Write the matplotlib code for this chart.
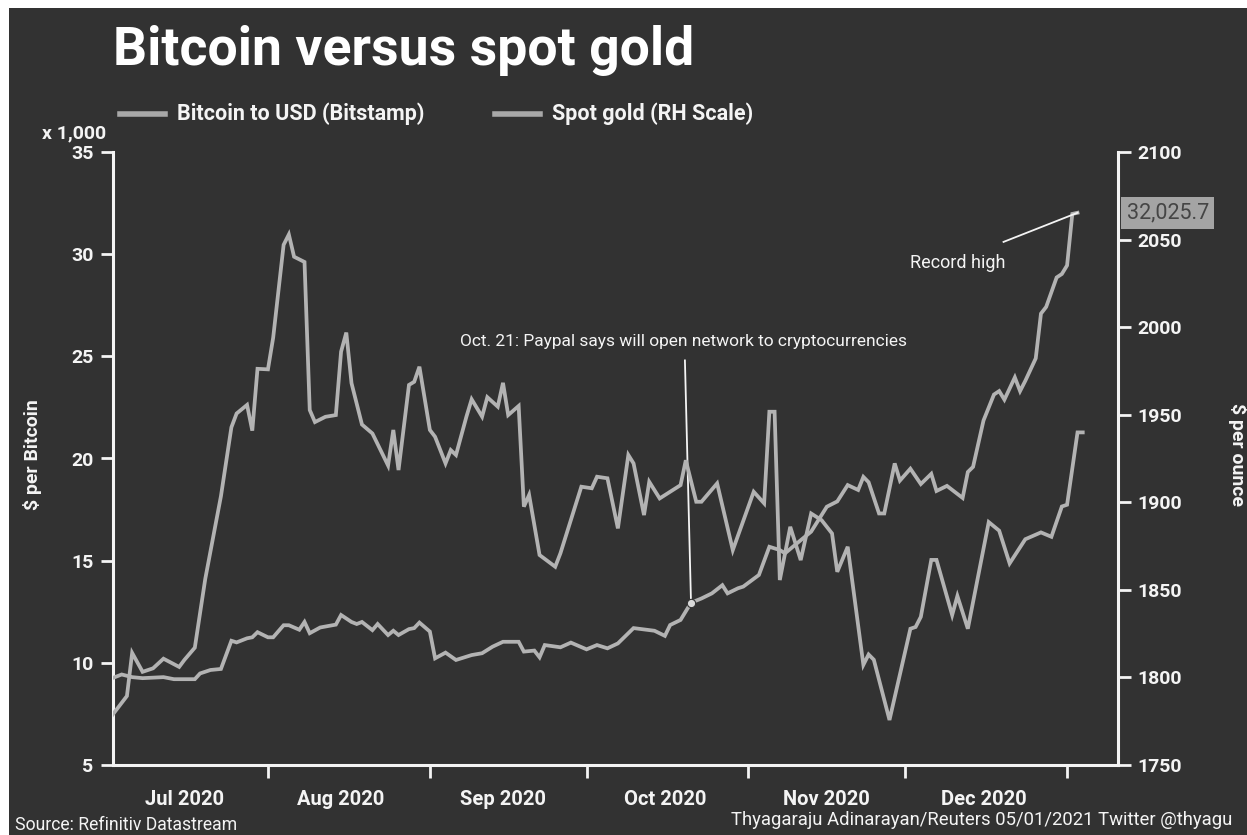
import matplotlib.pyplot as plt
import matplotlib.transforms as mtransforms
from matplotlib.lines import Line2D
from matplotlib.patches import Rectangle
import pandas as pd

# Bitcoin to USD (Bitstamp), thousands of dollars
btc_dates = [
    "2020-07-02", "2020-07-04", "2020-07-06", "2020-07-08", "2020-07-12", "2020-07-14",
    "2020-07-18", "2020-07-19", "2020-07-21", "2020-07-23", "2020-07-25", "2020-07-26",
    "2020-07-28", "2020-07-29", "2020-07-30", "2020-08-01", "2020-08-02", "2020-08-04",
    "2020-08-05", "2020-08-07", "2020-08-08", "2020-08-09", "2020-08-11", "2020-08-14",
    "2020-08-15", "2020-08-17", "2020-08-18", "2020-08-19", "2020-08-21", "2020-08-22",
    "2020-08-24", "2020-08-25", "2020-08-26", "2020-08-28", "2020-08-29", "2020-08-30",
    "2020-09-01", "2020-09-02", "2020-09-04", "2020-09-06", "2020-09-09", "2020-09-11",
    "2020-09-13", "2020-09-15", "2020-09-18", "2020-09-19", "2020-09-21", "2020-09-22",
    "2020-09-23", "2020-09-26", "2020-09-28", "2020-10-01", "2020-10-03", "2020-10-05",
    "2020-10-07", "2020-10-10", "2020-10-14", "2020-10-16", "2020-10-17", "2020-10-19",
    "2020-10-21", "2020-10-23", "2020-10-25", "2020-10-27", "2020-10-28", "2020-10-30",
    "2020-10-31", "2020-11-03", "2020-11-05", "2020-11-07", "2020-11-08", "2020-11-11",
    "2020-11-13", "2020-11-16", "2020-11-18", "2020-11-20", "2020-11-22", "2020-11-23",
    "2020-11-24", "2020-11-26", "2020-11-27", "2020-11-29", "2020-11-30", "2020-12-02",
    "2020-12-04", "2020-12-06", "2020-12-07", "2020-12-09", "2020-12-12", "2020-12-13",
    "2020-12-14", "2020-12-16", "2020-12-18", "2020-12-19", "2020-12-20", "2020-12-22",
    "2020-12-23", "2020-12-24", "2020-12-26", "2020-12-27", "2020-12-28", "2020-12-30",
    "2020-12-31", "2021-01-01", "2021-01-02", "2021-01-03",
]
btc_values = [
    9.23, 9.43, 9.30, 9.25, 9.30, 9.20,
    9.20, 9.48, 9.65, 9.70, 11.08, 11.00,
    11.20, 11.25, 11.50, 11.25, 11.25, 11.84,
    11.84, 11.62, 12.00, 11.45, 11.73, 11.87,
    12.34, 12.00, 11.90, 12.00, 11.60, 11.90,
    11.36, 11.57, 11.36, 11.65, 11.70, 11.97,
    11.53, 10.22, 10.50, 10.14, 10.38, 10.47,
    10.79, 11.03, 11.03, 10.55, 10.60, 10.27,
    10.87, 10.76, 10.99, 10.66, 10.87, 10.71,
    10.95, 11.70, 11.57, 11.32, 11.85, 12.10,
    12.94, 13.15, 13.40, 13.80, 13.40, 13.65,
    13.73, 14.30, 15.68, 15.52, 15.36, 16.00,
    16.42, 17.64, 17.90, 18.70, 18.46, 19.10,
    18.84, 17.31, 17.31, 19.76, 18.92, 19.50,
    18.75, 19.25, 18.41, 18.66, 18.07, 19.34,
    19.59, 21.86, 23.13, 23.30, 22.88, 23.97,
    23.30, 23.80, 24.90, 27.09, 27.42, 28.86,
    29.03, 29.45, 31.97, 32.0257,
]

# Spot gold, $ per ounce (right-hand scale)
gold_dates = [
    "2020-07-02", "2020-07-05", "2020-07-06", "2020-07-08", "2020-07-10", "2020-07-12",
    "2020-07-15", "2020-07-16", "2020-07-18", "2020-07-19", "2020-07-20", "2020-07-22",
    "2020-07-23", "2020-07-25", "2020-07-26", "2020-07-28", "2020-07-29", "2020-07-30",
    "2020-08-01", "2020-08-02", "2020-08-04", "2020-08-05", "2020-08-06", "2020-08-08",
    "2020-08-09", "2020-08-10", "2020-08-12", "2020-08-14", "2020-08-15", "2020-08-16",
    "2020-08-17", "2020-08-19", "2020-08-21", "2020-08-24", "2020-08-25", "2020-08-26",
    "2020-08-28", "2020-08-29", "2020-08-30", "2020-09-01", "2020-09-02", "2020-09-04",
    "2020-09-05", "2020-09-06", "2020-09-08", "2020-09-09", "2020-09-11", "2020-09-12",
    "2020-09-14", "2020-09-15", "2020-09-16", "2020-09-18", "2020-09-19", "2020-09-20",
    "2020-09-22", "2020-09-25", "2020-09-26", "2020-09-30", "2020-10-02", "2020-10-03",
    "2020-10-05", "2020-10-07", "2020-10-09", "2020-10-10", "2020-10-12", "2020-10-13",
    "2020-10-15", "2020-10-19", "2020-10-20", "2020-10-22", "2020-10-23", "2020-10-26",
    "2020-10-29", "2020-11-02", "2020-11-04", "2020-11-05", "2020-11-06", "2020-11-07",
    "2020-11-09", "2020-11-11", "2020-11-13", "2020-11-15", "2020-11-17", "2020-11-18",
    "2020-11-20", "2020-11-23", "2020-11-24", "2020-11-25", "2020-11-28", "2020-12-02",
    "2020-12-03", "2020-12-04", "2020-12-06", "2020-12-07", "2020-12-10", "2020-12-11",
    "2020-12-13", "2020-12-17", "2020-12-19", "2020-12-21", "2020-12-24", "2020-12-27",
    "2020-12-29", "2020-12-31", "2021-01-01", "2021-01-03", "2021-01-04",
]
gold_values = [
    1777.7, 1789.4, 1814.0, 1803.2, 1805.2, 1810.7,
    1806.0, 1810.0, 1817.0, 1836.7, 1856.3, 1887.8,
    1903.5, 1942.8, 1950.7, 1955.6, 1940.9, 1976.2,
    1975.9, 1994.0, 2047.0, 2052.9, 2040.2, 2037.2,
    1952.7, 1945.8, 1948.8, 1949.8, 1986.0, 1996.9,
    1968.0, 1944.4, 1939.3, 1921.0, 1941.3, 1918.4,
    1967.0, 1968.8, 1977.4, 1941.3, 1937.4, 1922.2,
    1929.8, 1927.0, 1948.9, 1958.8, 1948.9, 1960.0,
    1954.6, 1968.2, 1949.8, 1955.0, 1897.5, 1904.2,
    1869.9, 1863.2, 1870.9, 1908.9, 1908.0, 1914.6,
    1913.7, 1885.1, 1927.0, 1922.2, 1892.7, 1911.7,
    1902.2, 1909.8, 1924.0, 1900.3, 1900.3, 1910.8,
    1872.7, 1906.0, 1899.4, 1951.7, 1951.7, 1855.6,
    1886.0, 1867.0, 1893.6, 1889.8, 1882.2, 1860.3,
    1874.6, 1807.2, 1813.1, 1810.1, 1775.7, 1827.8,
    1828.8, 1834.6, 1867.1, 1867.1, 1835.6, 1846.5,
    1827.8, 1888.7, 1883.8, 1865.1, 1878.9, 1882.8,
    1880.3, 1897.6, 1898.6, 1939.9, 1939.9,
]

left_ticks = [5, 10, 15, 20, 25, 30, 35]
right_ticks = [1750, 1800, 1850, 1900, 1950, 2000, 2050, 2100]
month_starts = ["2020-08-01", "2020-09-01", "2020-10-01", "2020-11-01", "2020-12-01", "2021-01-01"]
month_labels = ["Jul 2020", "Aug 2020", "Sep 2020", "Oct 2020", "Nov 2020", "Dec 2020"]
month_mids = ["2020-07-16", "2020-08-15", "2020-09-15", "2020-10-16", "2020-11-16", "2020-12-16"]

BG = "#323232"
LINE = "#b3b3b3"
FG = "#f4f4f4"

plt.rcParams["font.family"] = ["Roboto", "DejaVu Sans"]

btc_x = pd.to_datetime(btc_dates)
gold_x = pd.to_datetime(gold_dates)

fig = plt.figure(figsize=(12.47, 8.35), dpi=100, facecolor="white")
fig.add_artist(Rectangle((9 / 1247, 0), 1, 1 - 8 / 835, transform=fig.transFigure,
                         facecolor=BG, edgecolor="none", zorder=-10))

ax = fig.add_axes([113 / 1247, 1 - 765 / 835, (1118 - 113) / 1247, (765 - 152) / 835])
ax.set_facecolor("none")
ax2 = ax.twinx()

ax.plot(btc_x, btc_values, color=LINE, lw=2.7, solid_joinstyle="miter", zorder=3)
ax2.plot(gold_x, gold_values, color=LINE, lw=2.7, solid_joinstyle="miter", zorder=3)

ax.set_xlim(pd.Timestamp("2020-07-02 08:00"), pd.Timestamp("2021-01-10 18:00"))
ax.set_ylim(5, 35)
ax2.set_ylim(1750, 2100)

for s in ["top", "right"]:
    ax.spines[s].set_visible(False)
for s in ["top", "left", "bottom"]:
    ax2.spines[s].set_visible(False)
for sp in [ax.spines["left"], ax.spines["bottom"], ax2.spines["right"]]:
    sp.set_color(FG)
    sp.set_linewidth(2.2)

ax.set_yticks(left_ticks, labels=[str(t) for t in left_ticks], fontweight="bold")
ax2.set_yticks(right_ticks, labels=[str(t) for t in right_ticks], fontweight="bold")
ax.tick_params(axis="y", colors=FG, length=9, width=2, labelsize=14, pad=5)
ax2.tick_params(axis="y", colors=FG, length=9, width=2, labelsize=14, pad=5)

ax.set_xticks(pd.to_datetime(month_starts))
ax.set_xticklabels([])
ax.set_xticks(pd.to_datetime(month_mids), minor=True)
ax.set_xticklabels(month_labels, minor=True, fontweight="bold")
ax.tick_params(axis="x", which="major", colors=FG, length=9, width=2)
ax.tick_params(axis="x", which="minor", colors=FG, length=0, labelsize=14.5, pad=18)

# Oct. 21 annotation
oct21 = pd.Timestamp("2020-10-21")
oct21_val = btc_values[btc_dates.index("2020-10-21")]
ax.plot([pd.Timestamp("2020-10-19 20:00"), oct21], [24.8, oct21_val], color=FG, lw=1.3, zorder=4)
ax.plot([oct21], [oct21_val], marker="o", ms=6, mfc="#d8d8d8", mec=BG, mew=0.8, zorder=5)
ax.text(pd.Timestamp("2020-10-19 12:00"), 25.75, "Oct. 21: Paypal says will open network to cryptocurrencies",
        color=FG, fontsize=12.5, ha="center", va="center")

# Record high annotation
ax.plot([pd.Timestamp("2020-12-19 20:00"), btc_x[-1]], [30.6, btc_values[-1]], color=FG, lw=1.3, zorder=4)
ax.text(pd.Timestamp("2020-12-11"), 29.55, "Record high", color=FG, fontsize=13, ha="center", va="center")

# last value box at the right axis
trans = mtransforms.blended_transform_factory(ax.transAxes, ax.transData)
ax.text(1.0085, btc_values[-1], f"{btc_values[-1] * 1000:,.1f}", transform=trans, color="#454545",
        fontsize=15.5, ha="left", va="center",
        bbox=dict(boxstyle="square,pad=0.25", facecolor="#a4a4a4", edgecolor="none"))

# title and legend
fig.text(113 / 1247, 1 - 50 / 835, "Bitcoin versus spot gold", color="white", fontsize=38.5,
         fontweight="bold", ha="left", va="center")
for x0, label in [(120, "Bitcoin to USD (Bitstamp)"), (495, "Spot gold (RH Scale)")]:
    fig.add_artist(Line2D([x0 / 1247, (x0 + 45) / 1247], [1 - 114 / 835] * 2, transform=fig.transFigure,
                          color="#a8a8a8", lw=4))
    fig.text((x0 + 57) / 1247, 1 - 114 / 835, label, color=FG, fontsize=15.5, fontweight="bold",
             ha="left", va="center")

fig.text(106 / 1247, 1 - 133 / 835, "x 1,000", color=FG, fontsize=14, fontweight="bold", ha="right", va="center")
fig.text(32 / 1247, 1 - 455 / 835, "$ per Bitcoin", color=FG, fontsize=14, fontweight="bold",
         rotation=90, ha="center", va="center")
fig.text(1237 / 1247, 1 - 455 / 835, "$ per ounce", color=FG, fontsize=14, fontweight="bold",
         rotation=270, ha="center", va="center")

fig.text(15 / 1247, 1 - 825 / 835, "Source: Refinitiv Datastream", color=FG, fontsize=12.7, ha="left", va="center")
fig.text(1232 / 1247, 1 - 820 / 835, "Thyagaraju Adinarayan/Reuters 05/01/2021 Twitter @thyagu", color=FG,
         fontsize=13.3, ha="right", va="center")

fig.savefig("out.png", dpi=100, facecolor=fig.get_facecolor())
